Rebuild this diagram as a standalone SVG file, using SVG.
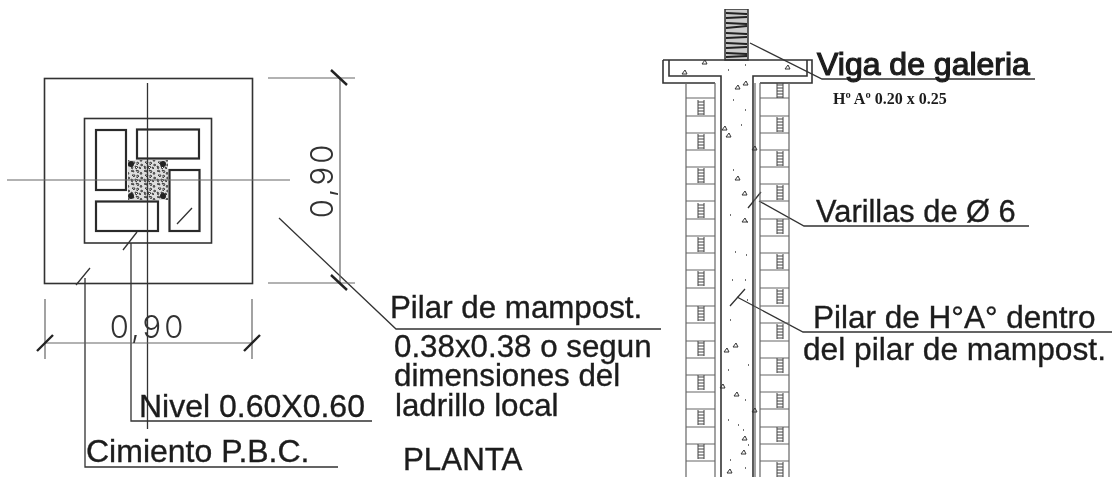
<svg xmlns="http://www.w3.org/2000/svg" width="1113" height="477" viewBox="0 0 1113 477">
<style>
text{font-family:"Liberation Sans",Arial,sans-serif;fill:#1c1c1c;stroke:#1c1c1c;stroke-width:.35}
.th{fill:none;stroke:#333;stroke-width:1.6}
.b{fill:#fff;stroke:#2a2a2a;stroke-width:2.2}
.t{fill:none;stroke:#222;stroke-width:2.4}
.s{fill:none;stroke:#333;stroke-width:1.3}
.g{fill:none;stroke:#666;stroke-width:1.2}
.dot{fill:#222}
.cad{font-family:"Inter","Liberation Sans",sans-serif;font-weight:300;font-size:31px;letter-spacing:3px;fill:#333;stroke:none}
.f31{font-size:31.3px}
.f32{font-size:32px}
</style>
<defs>
<filter id="soft" x="0" y="0" width="100%" height="100%"><feGaussianBlur stdDeviation="0.35"/></filter>
<pattern id="conc" width="13" height="13" patternUnits="userSpaceOnUse">
<rect width="13" height="13" fill="#ddd"/>
<path d="M1 2l2 -1 1 2zM6 1l3 1-1 2zM11 3l1 2-2 0zM2 6l3 0-1 2zM7 6l2 1-2 2zM11 8l2 1-2 1zM1 10l2 1-1 2zM5 10l3 1-2 2zM9 11l2 1-1 1z" fill="#fff" stroke="#333" stroke-width=".9"/>
</pattern>
<g id="lad" fill="none" stroke="#444" stroke-width="1">
<path d="M0 0V15M6 0V15M0 2H6M0 5H6M0 8H6M0 11H6M0 14H6"/>
</g>
<path id="tri" d="M0 0l3 -4 2 4z" fill="none" stroke="#333" stroke-width="1"/>
</defs>
<rect width="1113" height="477" fill="#fff"/>
<g filter="url(#soft)">
<g id="planta">
<rect class="th" x="44.500" y="78.500" width="208" height="205"/>
<rect class="th" x="84.500" y="118.500" width="127" height="124.500"/>
<rect x="128" y="160" width="40" height="40" fill="url(#conc)"/>
<rect class="b" x="96" y="130" width="30" height="60"/>
<rect class="b" x="137" y="129.500" width="62" height="29"/>
<rect class="b" x="169.500" y="170" width="30" height="61"/>
<rect class="b" x="96" y="201.500" width="62" height="29.500"/>
<circle class="dot" cx="131" cy="164" r="3"/>
<circle class="dot" cx="163" cy="164" r="3"/>
<circle class="dot" cx="131" cy="196" r="3"/>
<circle class="dot" cx="163" cy="196" r="3"/>
</g>
<g id="connectors">
<path class="g" d="M7 180H290"/>
<path class="s" d="M147.500 83V429"/>
<path class="s" d="M131 243V421H372"/>
<path class="s" d="M85 278V467H338"/>
<path class="s" d="M279 218L396 329H661"/>
<path class="g" d="M268 78H355M268 283H355M340 78V283"/>
<path class="g" d="M45 299V359M252 299V359M45 343H252"/>
<path class="t" d="M331 70L347 85M331 275L347 290M37 351L53 335M244 351L260 335"/>
<path class="s" d="M123 250L137 232M76 285L90 268M177 224L192 208"/>
<path class="s" d="M750 43L822 79H1035"/>
<path class="s" d="M759 201L804 226H1029"/>
<path class="s" d="M737 297L803 332H1112"/>
<path class="s" d="M731 42L745 27M748 208L761 192M730 306L745 289"/>
</g>
<g id="seccion">
<rect x="725" y="9" width="23" height="51" fill="#ccc" stroke="#333" stroke-width="1.500"/>
<path d="M726 13l21 1M726 18l21 -1M726 23l21 1M726 28l21 -2M726 33l21 1M726 38l21 -1M726 43l21 1M726 48l21 -1M726 53l21 1M726 57l21 -1" fill="none" stroke="#222" stroke-width="1.800"/>
<path class="th" d="M663 60H812V83H760M663 60V83H715M669 60V76H721V477M807 60V76H753V477"/>
<path class="g" d="M686 83V477M715 83V477M760 83V477M789 83V477M755 83V477"/>
<path class="g" d="M686 98H715M686 116H715M686 133H715M686 150H715M686 167H715M686 184H715M686 201H715M686 219H715M686 236H715M686 253H715M686 270H715M686 288H715M686 306H715M686 323H715M686 341H715M686 358H715M686 375H715M686 392H715M686 409H715M686 427H715M686 444H715M686 461H715"/>
<path class="g" d="M760 98H789M760 116H789M760 133H789M760 150H789M760 167H789M760 184H789M760 201H789M760 219H789M760 236H789M760 253H789M760 270H789M760 288H789M760 306H789M760 323H789M760 341H789M760 358H789M760 375H789M760 392H789M760 409H789M760 427H789M760 444H789M760 461H789"/>
<use href="#lad" x="698" y="100"/><use href="#lad" x="698" y="134"/><use href="#lad" x="698" y="168"/><use href="#lad" x="698" y="203"/><use href="#lad" x="698" y="237"/><use href="#lad" x="698" y="271"/><use href="#lad" x="698" y="306"/><use href="#lad" x="698" y="341"/><use href="#lad" x="698" y="375"/><use href="#lad" x="698" y="410"/><use href="#lad" x="698" y="444"/>
<use href="#lad" x="777" y="83"/><use href="#lad" x="777" y="117"/><use href="#lad" x="777" y="151"/><use href="#lad" x="777" y="185"/><use href="#lad" x="777" y="219"/><use href="#lad" x="777" y="254"/><use href="#lad" x="777" y="289"/><use href="#lad" x="777" y="324"/><use href="#lad" x="777" y="358"/><use href="#lad" x="777" y="393"/><use href="#lad" x="777" y="427"/><use href="#lad" x="777" y="462"/>
<use href="#tri" x="682" y="74"/><use href="#tri" x="702" y="64"/><use href="#tri" x="785" y="69"/><use href="#tri" x="743" y="85"/><use href="#tri" x="735" y="89"/><use href="#tri" x="722" y="130"/><use href="#tri" x="726" y="137"/><use href="#tri" x="752" y="150"/><use href="#tri" x="735" y="180"/><use href="#tri" x="742" y="195"/><use href="#tri" x="742" y="222"/><use href="#tri" x="724" y="352"/><use href="#tri" x="733" y="347"/><use href="#tri" x="734" y="396"/><use href="#tri" x="720" y="388"/><use href="#tri" x="742" y="440"/><use href="#tri" x="741" y="454"/><use href="#tri" x="727" y="473"/><use href="#tri" x="752" y="412"/>
<path d="M728 70h1M745 65h1M733 100h1M745 110h1M741 125h1M733 170h1M730 215h1M747 222h1M735 252h1M746 255h1M732 280h1M745 280h1M747 300h1M730 320h1M748 365h1M728 370h1M745 400h1M728 420h1M738 425h1M743 430h1M748 445h1M730 460h1M745 468h1" stroke="#444" stroke-width="1.500" fill="none"/>
</g>
<g id="textos">
<text class="cad" text-anchor="middle" transform="translate(333 180) rotate(-90)">0,90</text>
<text class="cad" text-anchor="middle" x="148" y="338">0,90</text>
<text class="f31" x="390" y="318">Pilar de mampost.</text>
<text class="f31" x="394" y="357">0.38x0.38 o segun</text>
<text class="f31" x="394" y="386">dimensiones del</text>
<text class="f31" x="395" y="416">ladrillo local</text>
<text class="f32" x="139" y="417">Nivel 0.60X0.60</text>
<text class="f32" x="86" y="462">Cimiento P.B.C.</text>
<text class="f31" x="403" y="470">PLANTA</text>
<text x="817" y="75" font-size="32" style="stroke-width:1.200">Viga de galeria</text>
<text x="833" y="104" font-size="16" font-weight="700" style="font-family:'Liberation Serif',serif;stroke:none">Hº Aº 0.20 x 0.25</text>
<text x="816" y="222" font-size="30.800">Varillas de Ø 6</text>
<text x="813" y="328" font-size="31.500">Pilar de H°A° dentro</text>
<text x="803" y="360" font-size="31.700">del pilar de mampost.</text>
</g>
</g>
</svg>
